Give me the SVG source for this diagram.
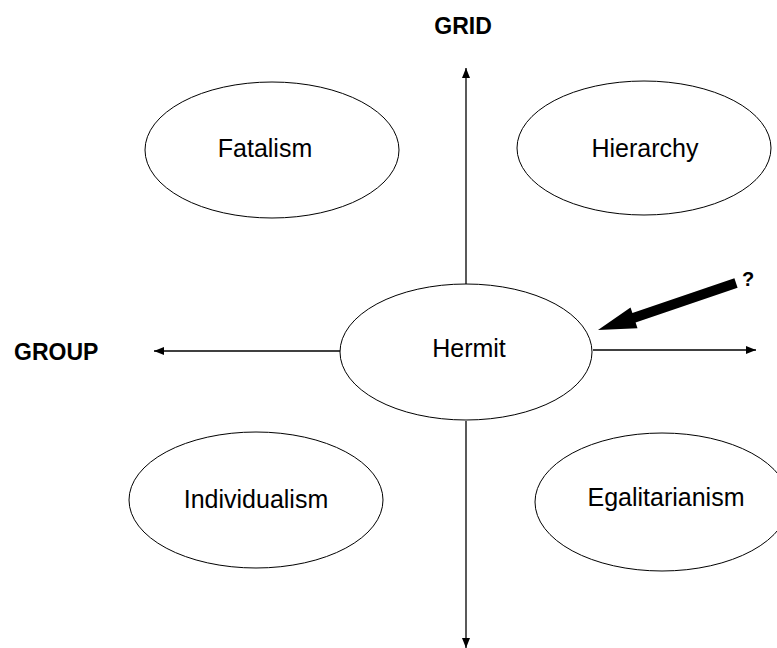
<svg xmlns="http://www.w3.org/2000/svg" width="777" height="648" viewBox="0 0 777 648">
<style>
.node ellipse{fill:#fff;stroke:#000;stroke-width:1}
.lbl{font-family:"Liberation Sans",Arial,sans-serif;font-size:25px;fill:#000;text-anchor:middle}
.axis{font-family:"Liberation Sans",Arial,sans-serif;font-size:23px;font-weight:bold;fill:#000}
.ax{stroke:#000;stroke-width:1.3;fill:none}
</style>
<defs>
<marker id="ah" markerWidth="10" markerHeight="8" refX="10" refY="4" orient="auto" markerUnits="userSpaceOnUse">
<path d="M0,0 L10,4 L0,8 Z" fill="#000"/>
</marker>
</defs>
<rect width="777" height="648" fill="#fff"/>
<text class="axis" x="463" y="34" text-anchor="middle">GRID</text>
<text class="axis" x="14" y="360">GROUP</text>
<g id="connectors">
<line class="ax" x1="466" y1="285" x2="466" y2="68" marker-end="url(#ah)"/>
<line class="ax" x1="466" y1="421" x2="466" y2="648" marker-end="url(#ah)"/>
<line class="ax" x1="340" y1="351" x2="154" y2="351" marker-end="url(#ah)"/>
<line class="ax" x1="593" y1="350" x2="756" y2="350" marker-end="url(#ah)"/>
<polygon points="737.6,287.7 734.4,278.3 632.4,313.1 630.5,307.4 598,330 637.5,328.2 635.6,322.5" fill="#000"/>
</g>
<text x="748" y="286" font-family="Liberation Sans,Arial,sans-serif" font-size="20" font-weight="bold" text-anchor="middle">?</text>
<g id="fatalism" class="node"><ellipse cx="272" cy="150" rx="127" ry="68"/><text class="lbl" x="265" y="157">Fatalism</text></g>
<g id="hierarchy" class="node"><ellipse cx="644" cy="148" rx="127" ry="67"/><text class="lbl" x="645" y="157">Hierarchy</text></g>
<g id="hermit" class="node"><ellipse cx="466" cy="352" rx="126" ry="68"/><text class="lbl" x="469" y="357">Hermit</text></g>
<g id="individualism" class="node"><ellipse cx="256" cy="500" rx="127" ry="68"/><text class="lbl" x="256" y="508">Individualism</text></g>
<g id="egalitarianism" class="node"><ellipse cx="662" cy="502" rx="127" ry="69"/><text class="lbl" x="666" y="506">Egalitarianism</text></g>
</svg>
